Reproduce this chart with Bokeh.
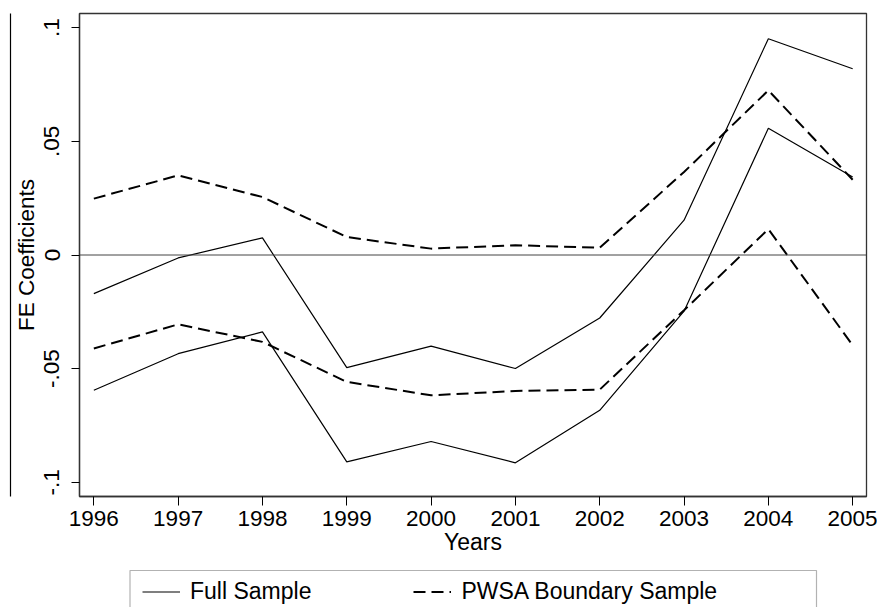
from bokeh.plotting import figure
from bokeh.models import (Range1d, FixedTicker, LinearAxis, Span, Legend, LegendItem,
                          BoxAnnotation)
from bokeh.layouts import column
from bokeh.embed import file_html
from bokeh.resources import INLINE

# ---- data ----
years = [1996, 1997, 1998, 1999, 2000, 2001, 2002, 2003, 2004, 2005]
full_upper = [-0.017, -0.0013, 0.0075, -0.0495, -0.0401, -0.0499, -0.0277, 0.0153, 0.0951, 0.0819]
full_lower = [-0.0595, -0.0434, -0.0338, -0.091, -0.082, -0.0914, -0.0683, -0.0247, 0.0557, 0.0343]
pwsa_upper = [0.0248, 0.035, 0.0255, 0.0079, 0.0028, 0.0043, 0.0032, 0.0365, 0.0724, 0.0331]
pwsa_lower = [-0.0411, -0.0305, -0.0382, -0.0558, -0.0617, -0.0598, -0.0592, -0.0243, 0.0114, -0.0397]
y_ticks = [-0.1, -0.05, 0, 0.05, 0.1]
y_tick_labels = ["-.1", "-.05", "0", ".05", ".1"]
series_labels = ["Full Sample", "PWSA Boundary Sample"]

FONT = "Liberation Sans"
DASH = "12 6"
LEFT, FW, RIGHT = 79, 787, 11
TOP, FH, BOTTOM = 13, 483, 70
H2 = 607 - (TOP + FH + BOTTOM)

p = figure(frame_width=FW, frame_height=FH, output_backend="svg", toolbar_location=None,
           x_range=Range1d(1995.83, 2005.164), y_range=Range1d(-0.1062, 0.1062),
           min_border_left=LEFT, min_border_right=RIGHT, min_border_top=TOP,
           min_border_bottom=BOTTOM)
p.grid.visible = False
p.outline_line_color = "#333333"
p.outline_line_width = 1.3
p.background_fill_color = "white"
p.border_fill_color = "white"

# zero line
p.add_layout(Span(location=0, dimension="width", line_color="#444444", line_width=1))

for ys in (full_upper, full_lower):
    p.line(years, ys, line_color="black", line_width=1.2)
for ys in (pwsa_upper, pwsa_lower):
    p.line(years, ys, line_color="black", line_width=2, line_dash=DASH)

# x axis
xa = p.xaxis[0]
xa.ticker = FixedTicker(ticks=years)
xa.axis_label = "Years"
xa.major_tick_out = 9
xa.major_tick_in = 0
xa.minor_tick_out = 0
xa.minor_tick_line_color = None
xa.major_label_standoff = 5
xa.axis_label_standoff = 0
xa.major_label_text_font = FONT
xa.major_label_text_font_size = "22.5px"
xa.major_label_text_color = "black"
xa.axis_label_text_font = FONT
xa.axis_label_text_font_size = "23px"
xa.axis_label_text_font_style = "normal"
xa.axis_label_text_color = "black"
xa.axis_line_color = "#333333"
xa.axis_line_width = 1.3
xa.major_tick_line_color = "black"

# y axis
ya = p.yaxis[0]
ya.ticker = FixedTicker(ticks=y_ticks)
ya.major_label_overrides = {t: s for t, s in zip(y_ticks, y_tick_labels)}
ya.axis_label = "FE Coefficients"
ya.major_tick_out = 8
ya.major_tick_in = 0
ya.minor_tick_out = 0
ya.minor_tick_line_color = None
ya.major_label_orientation = "vertical"
ya.major_label_standoff = 12
ya.axis_label_standoff = 3
ya.major_label_text_font = FONT
ya.major_label_text_font_size = "22.5px"
ya.major_label_text_color = "black"
ya.axis_label_text_font = FONT
ya.axis_label_text_font_size = "22.5px"
ya.axis_label_text_font_style = "normal"
ya.axis_label_text_color = "black"
ya.axis_line_color = "#333333"
ya.axis_line_width = 1.3
ya.major_tick_line_color = "black"

# outer vertical rule on the far left
outer = LinearAxis(ticker=FixedTicker(ticks=[]), major_tick_out=0, major_tick_in=0,
                   minor_tick_out=0, minor_tick_in=0, major_label_standoff=0,
                   axis_line_color="black", axis_line_width=1.2)
p.add_layout(outer, "left")

# ---- legend strip (same horizontal structure as the main plot) ----
p2 = figure(frame_width=FW, frame_height=H2, output_backend="svg", toolbar_location=None,
            x_range=Range1d(LEFT, LEFT + FW), y_range=Range1d(H2, 0),
            min_border=0, min_border_left=LEFT, min_border_right=RIGHT,
            min_border_top=0, min_border_bottom=0)
p2.axis.visible = False
p2.grid.visible = False
p2.outline_line_color = None
p2.background_fill_color = "white"
p2.border_fill_color = "white"

# legend sample renderers (their data lie outside the visible strip)
r1 = p2.line(x=[0, 1], y=[-100, -100], line_color="black", line_width=1.2)
r2 = p2.line(x=[0, 1], y=[-100, -100], line_color="black", line_width=2, line_dash=DASH)

p2.add_layout(BoxAnnotation(left=129.5, right=816, top=4, bottom=300,
                            fill_alpha=0, line_color="black", line_width=1.2))

leg = Legend(items=[LegendItem(label=series_labels[0], renderers=[r1]),
                    LegendItem(label=series_labels[1], renderers=[r2])],
             orientation="horizontal", location=(142 - LEFT, 2),
             padding=0, margin=0, spacing=102,
             glyph_width=38, glyph_height=27, label_height=27, label_standoff=10,
             label_text_font=FONT, label_text_font_size="23px", label_text_color="black",
             border_line_color=None, background_fill_alpha=0)
p2.add_layout(leg, "center")

layout = column(p, p2)
open("out.html", "w").write(file_html(layout, INLINE))
